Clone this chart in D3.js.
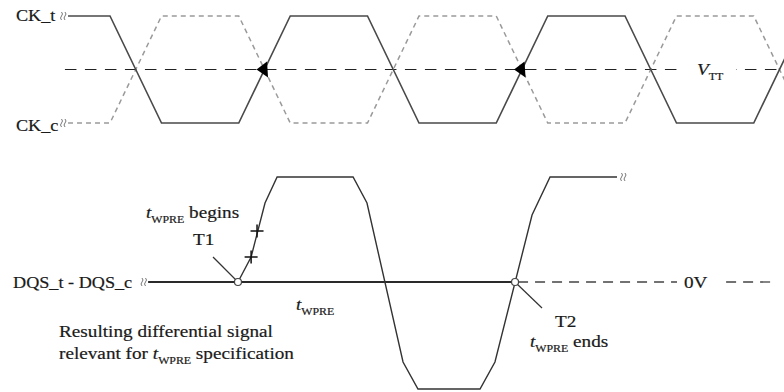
<!DOCTYPE html>
<html><head><meta charset="utf-8">
<script src="https://cdn.jsdelivr.net/npm/d3@7"></script>
<style>html,body{margin:0;padding:0;background:#fff;} svg{display:block;} text{white-space:pre;}</style>
</head><body>
<svg id="c" width="784" height="392"></svg>
<script>
// ---- data (time in tCK units, levels normalised) ----
const ckTime = [-0.163, 0, 0.2, 0.5, 0.7, 1.0, 1.2, 1.5, 1.7, 2.0, 2.2, 2.5, 2.7];
const ckT    = [1, 1, -1, -1, 1, 1, -1, -1, 1, 1, -1, -1, 1];
const ckC    = [-1, -1, 1, 1, -1, -1, 1, 1, -1, -1, 1, 1, -1];
const vttCrossTimes = [0.6, 1.6];
const vttRange = [-0.175, 2.7];
const vttLabelGap = [2.214, 2.431];
const dqsTime = [0.497, 0.548, 0.602, 0.649, 0.944, 0.998, 1.138, 1.196, 1.437, 1.495, 1.639, 1.709, 1.969];
const dqsDiff = [0, 0.238, 0.752, 1, 1, 0.752, -0.762, -1.019, -1.019, -0.762, 0.638, 1, 1];
const tWPREBegin = 0.497, tWPREEnd = 1.573;
const zeroSolidStart = 0.148;
const zeroDashSegments = [[1.573, 2.202], [2.381, 2.571]];
const slewMarkTime = [0.548, 0.571];
const slewMarkDiff = [0.238, 0.486];

// ---- scales ----
const svg = d3.select('#c');
svg.append('rect').attr('width', 784).attr('height', 392).attr('fill', '#fff');
const x = d3.scaleLinear().domain([0, 1]).range([110, 367.5]);
const yCk = d3.scaleLinear().domain([-1, 1]).range([123, 16]);
const yDqs = d3.scaleLinear().domain([-1, 1]).range([387, 177]);

const FONT = '"Liberation Serif","Times New Roman","DejaVu Serif",serif';
function addText(px, py, parts, sx) {
  const t = svg.append('text')
    .attr('transform', `translate(${px},${py}) scale(${sx || 1.13},1)`)
    .attr('font-family', FONT).attr('font-size', 17).attr('fill', '#1a1a1a')
    .attr('stroke', '#1a1a1a').attr('stroke-width', 0.2);
  let shift = 0;
  parts.forEach(p => {
    const ts = t.append('tspan').text(p.s);
    if (p.i) ts.attr('font-style', 'italic');
    if (p.sub) { ts.attr('font-size', 10.5).attr('dy', 5 - shift); shift = 5; }
    else if (shift) { ts.attr('dy', -shift); shift = 0; }
  });
}
function squiggle(px, py) {
  [0, 3.5].forEach(o => {
    const cx = px + o;
    svg.append('path')
      .attr('d', `M${cx},${py - 4} Q${cx + 2},${py - 2} ${cx},${py} Q${cx - 2},${py + 2} ${cx},${py + 4}`)
      .attr('fill', 'none').attr('stroke', '#777').attr('stroke-width', 1);
  });
}

// ---- clock section ----
const ckLine = d3.line().x(d => x(d[0])).y(d => yCk(d[1]));
svg.append('line')
  .attr('x1', x(vttRange[0])).attr('x2', x(vttRange[1]))
  .attr('y1', yCk(0)).attr('y2', yCk(0))
  .attr('stroke', '#222').attr('stroke-width', 1.2).attr('stroke-dasharray', '11.5,8.5');
svg.append('rect')
  .attr('x', x(vttLabelGap[0])).attr('width', x(vttLabelGap[1]) - x(vttLabelGap[0]))
  .attr('y', yCk(0) - 4).attr('height', 8).attr('fill', '#fff');

svg.append('path').datum(ckTime.map((t, i) => [t, ckC[i]]))
  .attr('d', ckLine).attr('fill', 'none')
  .attr('stroke', '#9a9a9a').attr('stroke-width', 1.5).attr('stroke-dasharray', '5,4');
svg.append('path').datum(ckTime.map((t, i) => [t, ckT[i]]))
  .attr('d', ckLine).attr('fill', 'none')
  .attr('stroke', '#4a4a4a').attr('stroke-width', 1.6);

vttCrossTimes.forEach(t => {
  const cx = x(t), cy = yCk(0);
  svg.append('path')
    .attr('d', `M${cx - 8},${cy} L${cx + 2.5},${cy - 8} L${cx + 3.5},${cy + 8} Z`)
    .attr('fill', '#000');
});

squiggle(61.5, yCk(1));
squiggle(61.5, yCk(-1));
addText(16, 21, [{s: 'CK_t'}], 1.07);
addText(16, 131, [{s: 'CK_c'}], 1.07);
addText(697, 75, [{s: 'V', i: true}, {s: 'TT', sub: true}]);

// ---- DQS section ----
const dqsLine = d3.line().x(d => x(d[0])).y(d => yDqs(d[1]));
svg.append('line')
  .attr('x1', x(zeroSolidStart)).attr('x2', x(tWPREEnd))
  .attr('y1', yDqs(0)).attr('y2', yDqs(0))
  .attr('stroke', '#2a2a2a').attr('stroke-width', 2);
zeroDashSegments.forEach(seg => {
  svg.append('line')
    .attr('x1', x(seg[0])).attr('x2', x(seg[1]))
    .attr('y1', yDqs(0)).attr('y2', yDqs(0))
    .attr('stroke', '#444').attr('stroke-width', 1.3).attr('stroke-dasharray', '10,7').attr('stroke-dashoffset', -3);
});
svg.append('path').datum(dqsTime.map((t, i) => [t, dqsDiff[i]]))
  .attr('d', dqsLine).attr('fill', 'none')
  .attr('stroke', '#333').attr('stroke-width', 1.4);

slewMarkTime.forEach((t, i) => {
  const cx = x(t), cy = yDqs(slewMarkDiff[i]);
  svg.append('path')
    .attr('d', `M${cx - 6.5},${cy} L${cx + 6.5},${cy} M${cx},${cy - 6.5} L${cx},${cy + 6.5}`)
    .attr('stroke', '#111').attr('stroke-width', 1.5);
});

svg.append('line').attr('x1', 213).attr('y1', 257)
  .attr('x2', x(tWPREBegin) - 2.5).attr('y2', yDqs(0) - 2.5)
  .attr('stroke', '#333').attr('stroke-width', 1.2);
svg.append('line').attr('x1', x(tWPREEnd) + 2.5).attr('y1', yDqs(0) + 2.5)
  .attr('x2', 542).attr('y2', 308)
  .attr('stroke', '#333').attr('stroke-width', 1.2);

[tWPREBegin, tWPREEnd].forEach(t => {
  svg.append('circle').attr('cx', x(t)).attr('cy', yDqs(0)).attr('r', 3.5)
    .attr('fill', '#fff').attr('stroke', '#444').attr('stroke-width', 1.2);
});

squiggle(142, yDqs(0));
squiggle(621.5, yDqs(1));

addText(13, 288, [{s: 'DQS_t - DQS_c'}], 1.07);
addText(146, 218, [{s: 't', i: true}, {s: 'WPRE', sub: true}, {s: ' begins'}]);
addText(193, 245, [{s: 'T1'}]);
addText(296, 310, [{s: 't', i: true}, {s: 'WPRE', sub: true}]);
addText(59, 337, [{s: 'Resulting differential signal'}]);
addText(59, 359, [{s: 'relevant for '}, {s: 't', i: true}, {s: 'WPRE', sub: true}, {s: ' specification'}]);
addText(555, 327, [{s: 'T2'}]);
addText(530, 347, [{s: 't', i: true}, {s: 'WPRE', sub: true}, {s: ' ends'}]);
addText(684, 288, [{s: '0V'}]);
</script>
</body></html>
